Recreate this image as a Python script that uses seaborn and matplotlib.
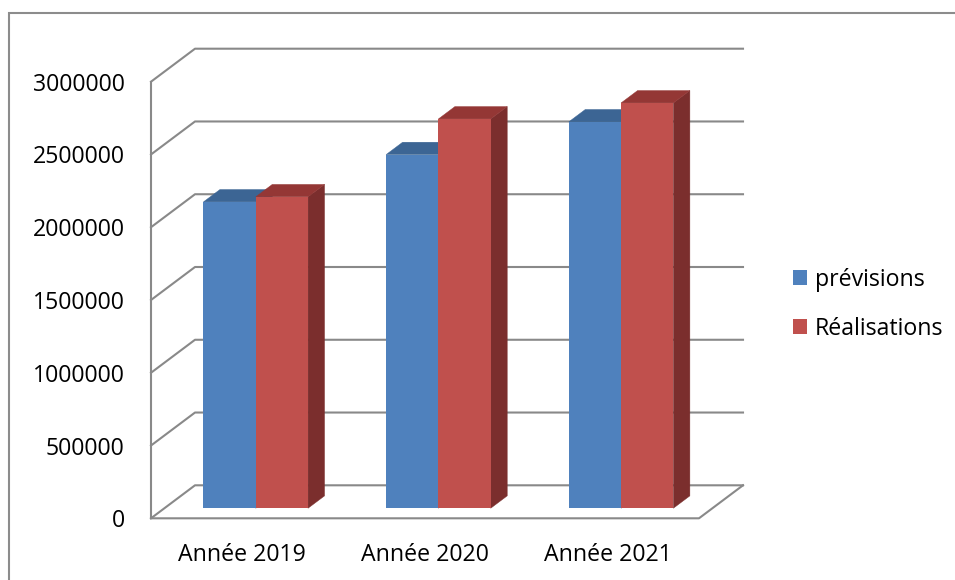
import matplotlib
matplotlib.use("Agg")
import matplotlib.pyplot as plt
import seaborn as sns
import pandas as pd
from matplotlib.patches import Polygon, Rectangle
from matplotlib.transforms import Affine2D

# ---- data ----
years = ["Année 2019", "Année 2020", "Année 2021"]
previsions = [2105000, 2430000, 2655000]
realisations = [2140000, 2675000, 2785000]
series_names = ["prévisions", "Réalisations"]
y_ticks = [0, 500000, 1000000, 1500000, 2000000, 2500000, 3000000]

front_colors = {"prévisions": "#4F81BD", "Réalisations": "#C0504D"}
top_colors = {"prévisions": "#3C6594", "Réalisations": "#943735"}
side_colors = {"prévisions": "#385D8A", "Réalisations": "#7B2E2D"}

df = pd.DataFrame({
    "year": years * 2,
    "value": previsions + realisations,
    "serie": [series_names[0]] * 3 + [series_names[1]] * 3,
})

sns.set_style("white")
plt.rcParams["font.family"] = ["Open Sans", "DejaVu Sans"]
plt.rcParams["text.color"] = "black"

W, H = 955, 580
fig = plt.figure(figsize=(W / 100, H / 100), dpi=100)

# geometry (pixels)
px_left, px_right = 151, 743
px_y0, px_ytop = 518.3, 48.7
cat_px = (699 - 151) / 3.0
depth_dx_px, depth_dy_px = 44.0, 33.0
ppm = (518.3 - 81.7) / 3.0e6  # pixel per unit value

Dx = depth_dx_px / cat_px
Dy = depth_dy_px / ppm

ax = fig.add_axes([px_left / W, (H - px_y0) / H,
                   (px_right - px_left) / W, (px_y0 - px_ytop) / H])

sns.barplot(data=df, x="year", y="value", hue="serie", order=years,
            hue_order=series_names, palette=front_colors, width=0.5726,
            linewidth=0, saturation=1, ax=ax)

ax.set_xlim(-0.5, 2.5 + Dx)
ax.set_ylim(0, 3.0e6 + Dy)
for s in ax.spines.values():
    s.set_visible(False)

grid_kw = dict(color="#898989", lw=1.5, zorder=1, clip_on=False,
               solid_capstyle="projecting")
# left wall + back wall gridlines
for v in y_ticks:
    ax.plot([-0.5, -0.5 + Dx, 2.5 + Dx], [v, v + Dy, v + Dy], **grid_kw)
# left axis line
ax.plot([-0.5, -0.5], [0, 3.0e6], **grid_kw)
# floor
ax.plot([-0.5, 2.5, 2.5 + Dx], [0, 0, Dy], **grid_kw)

# 3D bars
d0 = 0.305
bd = 0.375
shift = Affine2D().translate(d0 * Dx, d0 * Dy) + ax.transData
bars = list(ax.patches)
n = len(years)
for i, p in enumerate(bars[: 2 * n]):
    serie = series_names[i // n]
    base_z = 2 if serie == series_names[0] else 5
    x0, w, h = p.get_x(), p.get_width(), p.get_height()
    ddx, ddy = bd * Dx, bd * Dy
    side = Polygon([(x0 + w, 0), (x0 + w, h), (x0 + w + ddx, h + ddy),
                    (x0 + w + ddx, ddy)], closed=True,
                   fc=side_colors[serie], ec=side_colors[serie], lw=0.3,
                   transform=shift, zorder=base_z, clip_on=False)
    top = Polygon([(x0, h), (x0 + w, h), (x0 + w + ddx, h + ddy),
                   (x0 + ddx, h + ddy)], closed=True,
                  fc=top_colors[serie], ec=top_colors[serie], lw=0.3,
                  transform=shift, zorder=base_z + 1, clip_on=False)
    ax.add_patch(side)
    ax.add_patch(top)
    p.set_transform(shift)
    p.set_zorder(base_z + 2)
    p.set_clip_on(False)

# ticks
ax.set_yticks(y_ticks)
ax.set_yticklabels([str(v) for v in y_ticks])
ax.set_xticks(range(n))
ax.set_xticklabels(years)
ax.set_xlabel("")
ax.set_ylabel("")
ax.tick_params(axis="y", length=0, pad=19, labelsize=16.7, labelcolor="black")
ax.tick_params(axis="x", length=0, pad=17.5, labelsize=16.7, labelcolor="black")

# legend
handles, labels = ax.get_legend_handles_labels()
if ax.get_legend() is not None:
    ax.get_legend().remove()
fig.legend(handles[:2], labels[:2], loc="upper left",
           bbox_to_anchor=(793 / W, 1 - 267.5 / H),
           bbox_transform=fig.transFigure, frameon=False, fontsize=16.7,
           handlelength=0.62, handleheight=0.62, handletextpad=0.32,
           labelspacing=1.08, borderpad=0, borderaxespad=0,
           labelcolor="black")

# outer chart border
fig.add_artist(Rectangle((9 / W, -0.1), 1.2, (H - 13.5) / H + 0.1,
                         transform=fig.transFigure, fill=False,
                         ec="#8C8C8C", lw=1.5))

fig.savefig("out.png", dpi=100)
